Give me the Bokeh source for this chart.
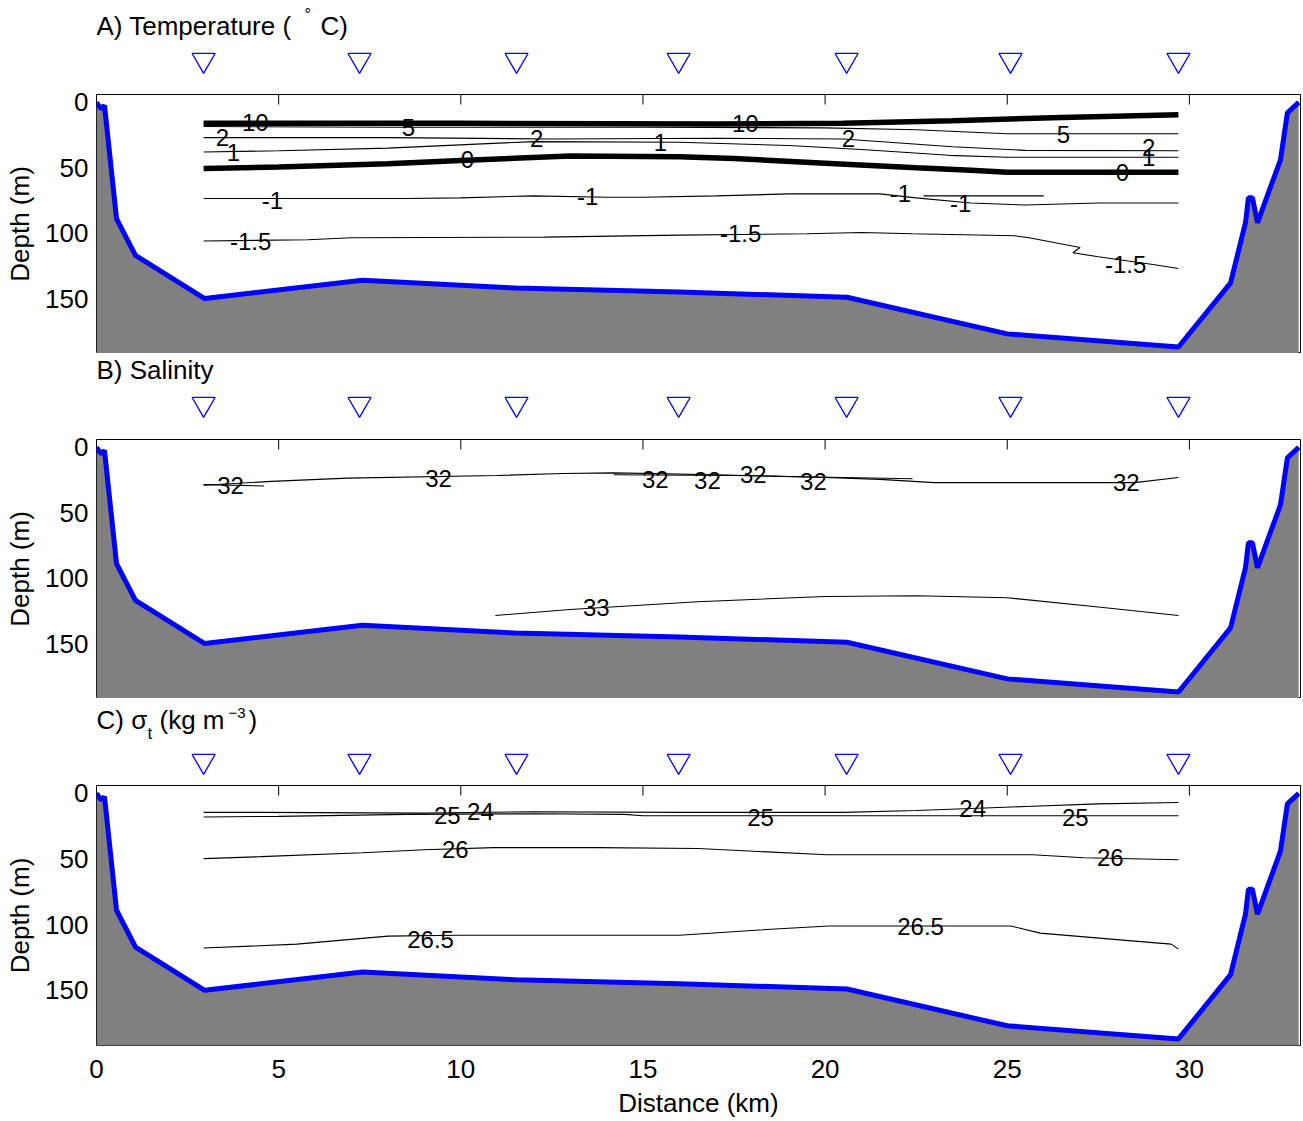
from bokeh.plotting import figure
from bokeh.layouts import column
from bokeh.models import Range1d, FixedTicker
from bokeh.core.properties import value
from bokeh.embed import file_html
from bokeh.resources import INLINE

FONT = value("Liberation Sans")

# ---------------- data ----------------
stations = [2.94, 7.22, 11.53, 15.98, 20.59, 25.09, 29.70]

bathy_x = [0.0, 0.13, 0.22, 0.55, 1.07, 2.97, 7.3, 11.5, 16.0, 20.6, 25.0, 29.7,
           31.13, 31.54, 31.62, 31.73, 31.87, 32.5, 32.69, 33.0]
bathy_d = [0, 5, 2.5, 89, 117, 150, 136, 142, 145, 149, 177, 187,
           138, 92, 73, 73, 92, 44, 8, 0]

x_ticks = [0, 5, 10, 15, 20, 25, 30]
top_ticks = [5, 10, 15, 20, 25, 30]
y_ticks = [0, 50, 100, 150]

# A) Temperature contours (distance km, depth m)
t10_x = [2.94, 10, 17, 20.5, 23.5, 26.5, 29.7]
t10_d = [16, 16, 16.5, 16, 14, 11.5, 9.5]
t5_x = [2.94, 8, 15, 20, 22.5, 25, 29.7]
t5_d = [18.5, 19, 19, 19.5, 21, 24, 24]
t2_x = [2.94, 8, 12.5, 17, 20.5, 23.5, 25.5, 29.7]
t2_d = [27, 27, 28, 27.5, 28, 34, 36.7, 37]
t1_x = [2.94, 5, 8, 12, 16, 19, 21, 23.4, 25, 29.7]
t1_d = [38, 37, 35, 30, 30.5, 33, 36, 40.5, 42, 42]
t0_x = [2.94, 5, 8, 10, 13, 16, 17.5, 20, 22.5, 24, 25, 29.7]
t0_d = [50.5, 49.5, 47, 44.5, 41, 41.5, 43, 46.5, 50, 52, 53.5, 53.5]
tm1_x = [2.94, 8.5, 10, 12, 14, 15, 17, 19, 21.5, 22.5, 24, 25.5, 27.5, 29.7]
tm1_d = [73.5, 73.5, 73, 71.5, 72.5, 72.5, 71.5, 70, 70, 73, 77, 78.5, 77, 77]
tm1b_x = [22.7, 26.0]
tm1b_d = [71.5, 71.5]
tm15_x = [2.94, 5.8, 7, 12.3, 16, 19.5, 21, 22.4, 25.2, 25.6, 27, 26.8, 27.5, 29, 29.7]
tm15_d = [106, 105, 103.5, 103, 101.5, 100.5, 99.5, 100.5, 102, 103.5, 111, 115, 118, 124, 127]

t_lab_text = ["10", "5", "2", "1", "2", "0", "1", "10", "2", "5", "2", "1", "0",
              "-1", "-1", "-1", "-1", "-1.5", "-1.5", "-1.5"]
t_lab_x = [4.36, 8.56, 3.46, 3.76, 12.08, 10.18, 15.48, 17.81, 20.64, 26.54, 28.88, 28.88, 28.16,
           4.83, 13.48, 22.07, 23.72, 4.23, 17.68, 28.25]
t_lab_d = [15.3, 19, 27, 38, 27.5, 44, 30.5, 16, 27.5, 24.5, 34.4, 42, 54,
           75, 72, 69.6, 77, 106, 100, 124]

# B) Salinity contours
s32_x = [2.94, 4.8, 6.9, 11, 12.8, 14.2, 17, 20, 21.5, 23, 27, 28.5, 29.7]
s32_d = [29, 26, 23.5, 21.5, 20, 19.5, 21, 23, 24.5, 27, 27, 27, 23]
s32b_x = [14.2, 17.5, 20.5, 22.4]
s32b_d = [21, 21.5, 23, 24]
s32c_x = [2.94, 4.6]
s32c_d = [28.5, 29.5]
s33_x = [10.95, 13, 16.5, 20, 22.5, 25, 27.5, 29.7]
s33_d = [128.5, 124, 118, 114, 113.5, 115, 122, 128.5]

s_lab_text = ["32", "32", "32", "32", "32", "32", "32", "33"]
s_lab_x = [3.68, 9.39, 15.34, 16.77, 18.03, 19.68, 28.27, 13.72]
s_lab_d = [29, 23.7, 24.5, 25.2, 20.7, 26, 26.8, 122.4]

# C) sigma-t contours
g24_x = [2.94, 4.5, 9, 12, 16, 20.5, 22.5, 24, 25.5, 27.5, 29.7]
g24_d = [14.5, 14.5, 15, 14, 14.5, 14.5, 13, 11.5, 10, 8, 7]
g25_x = [2.94, 5, 8.5, 12, 14.5, 15, 20, 25, 29.7]
g25_d = [18, 17.5, 16, 15.5, 16, 17, 17, 17, 17]
g26_x = [2.94, 4.5, 7.3, 9, 10.9, 13.75, 16.5, 20.05, 25.7, 27.1, 29.7]
g26_d = [49.7, 48.2, 45.2, 42.9, 41.3, 41.3, 42, 46.7, 46.7, 49, 50.5]
g265_x = [2.94, 5.5, 8, 9.9, 16, 18.2, 20.1, 25.1, 25.9, 28.5, 29.5, 29.7]
g265_d = [117.8, 114.8, 108.7, 108, 108, 104, 101, 101, 106.4, 112.5, 114.8, 118.6]

g_lab_text = ["25", "24", "26", "26.5", "25", "24", "25", "26", "26.5"]
g_lab_x = [9.63, 10.54, 9.85, 9.17, 18.23, 24.05, 26.87, 27.83, 22.62]
g_lab_d = [16.8, 13.8, 42.9, 111, 18.4, 11.5, 18.4, 49, 101]

# ---------------- layout ----------------
W = 1302
LB = 96
RB = 2
TB = 8
BB = 75
XR = Range1d(0, 33.05)
YR_TOP, YR_BOT = -6, 192
PX_PER_M = 259 / (YR_BOT - YR_TOP)
TICK_M = 10 / PX_PER_M


def header(h, parts, tri_y):
    p = figure(width=W, height=h, x_range=XR, y_range=Range1d(h, 0),
               output_backend="svg", toolbar_location=None,
               x_axis_location=None, y_axis_location=None,
               min_border_left=LB, min_border_right=RB,
               min_border_top=0, min_border_bottom=0)
    p.grid.visible = False
    p.outline_line_color = None
    p.scatter(stations, [tri_y] * len(stations), marker="inverted_triangle", size=23,
              fill_color=None, line_color="#0000ff", line_width=1.3)
    for txt, xoff, y, size in parts:
        p.text(x=[0], y=[y], text=[txt], x_offset=xoff, text_font=FONT,
               text_font_size=f"{size}px", text_align="left",
               text_baseline="alphabetic", text_color="black")
    return p


def panel(h, bottom_border, xaxis):
    p = figure(width=W, height=h, x_range=XR, y_range=Range1d(YR_BOT, YR_TOP),
               output_backend="svg", toolbar_location=None,
               x_axis_location="below" if xaxis else None, y_axis_location="left",
               min_border_left=LB, min_border_right=RB,
               min_border_top=TB, min_border_bottom=bottom_border)
    p.grid.visible = False
    p.outline_line_color = "black"
    p.outline_line_width = 1
    ya = p.yaxis[0]
    ya.ticker = FixedTicker(ticks=y_ticks)
    ya.major_tick_in = 0
    ya.major_tick_out = 0
    ya.minor_tick_line_color = None
    ya.axis_line_color = None
    ya.major_label_standoff = 8
    ya.major_label_text_font = "Liberation Sans"
    ya.major_label_text_font_size = "26px"
    ya.major_label_text_color = "black"
    ya.axis_label = "Depth (m)"
    ya.axis_label_text_font = "Liberation Sans"
    ya.axis_label_text_font_size = "26px"
    ya.axis_label_text_font_style = "normal"
    ya.axis_label_text_color = "black"
    ya.axis_label_standoff = 7
    if xaxis:
        xa = p.xaxis[0]
        xa.ticker = FixedTicker(ticks=x_ticks)
        xa.major_tick_in = 0
        xa.major_tick_out = 0
        xa.minor_tick_line_color = None
        xa.axis_line_color = None
        xa.major_label_standoff = 14
        xa.major_label_text_font = "Liberation Sans"
        xa.major_label_text_font_size = "26px"
        xa.major_label_text_color = "black"
        xa.axis_label = "Distance (km)"
        xa.axis_label_text_font = "Liberation Sans"
        xa.axis_label_text_font_size = "26px"
        xa.axis_label_text_font_style = "normal"
        xa.axis_label_text_color = "black"
        xa.axis_label_standoff = 7
    # inward tick marks along the top edge
    p.segment(x0=top_ticks, y0=[YR_TOP] * len(top_ticks),
              x1=top_ticks, y1=[YR_TOP + TICK_M] * len(top_ticks),
              line_color="black", line_width=1)
    return p


def bathy(p):
    p.varea(x=bathy_x, y1=bathy_d, y2=[400] * len(bathy_x), fill_color="#808080")
    p.line(bathy_x, bathy_d, line_color="black", line_width=2)
    p.line(bathy_x, bathy_d, line_color="#0000ff", line_width=5)


def contour(p, xs, ds, w=1.1):
    p.line(xs, ds, line_color="black", line_width=w)


def labels(p, txt, xs, ds):
    p.text(x=xs, y=ds, text=txt, text_font=FONT, text_font_size="24px",
           text_align="center", text_baseline="middle", text_color="black")


# Panel A
hA = header(86, [("A) Temperature (", 0, 25, 26), ("°", 208, 14, 16), ("C)", 224, 25, 26)], 59.6)
pA = panel(TB + 259, 0, False)
for xs, ds in [(t5_x, t5_d), (t2_x, t2_d), (t1_x, t1_d), (tm1_x, tm1_d), (tm1b_x, tm1b_d),
               (tm15_x, tm15_d)]:
    contour(pA, xs, ds)
contour(pA, t10_x, t10_d, 5.5)
contour(pA, t0_x, t0_d, 5.5)
labels(pA, t_lab_text, t_lab_x, t_lab_d)
bathy(pA)

# Panel B
hB = header(78, [("B) Salinity", 0, 16, 26)], 50.6)
pB = panel(TB + 259, 0, False)
for xs, ds in [(s32_x, s32_d), (s32b_x, s32b_d), (s32c_x, s32c_d), (s33_x, s33_d)]:
    contour(pB, xs, ds)
labels(pB, s_lab_text, s_lab_x, s_lab_d)
bathy(pB)

# Panel C
hC = header(79, [("C) σ", 0, 21, 26), ("t", 51, 35, 17), ("(kg m", 63, 21, 26),
                 ("−3", 132, 14, 15), (")", 152, 21, 26)], 62.6)
pC = panel(TB + 260 + BB, BB, True)
for xs, ds in [(g24_x, g24_d), (g25_x, g25_d), (g26_x, g26_d), (g265_x, g265_d)]:
    contour(pC, xs, ds)
labels(pC, g_lab_text, g_lab_x, g_lab_d)
bathy(pC)

layout = column(hA, pA, hB, pB, hC, pC, spacing=0)
open("out.html", "w").write(file_html(layout, INLINE))
